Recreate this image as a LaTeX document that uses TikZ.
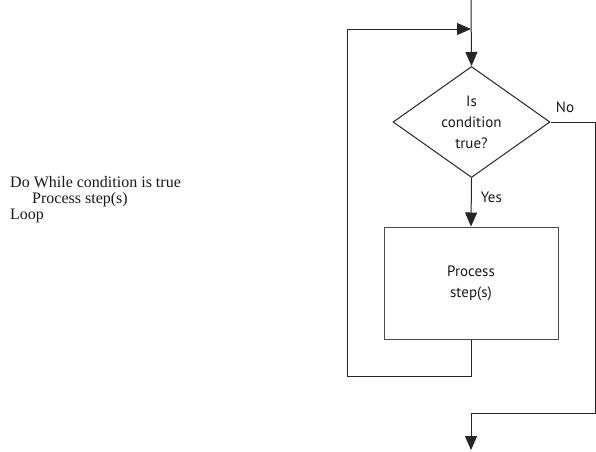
\documentclass[tikz,border=0pt]{standalone}
\usepackage{fontspec}
\setsansfont{PT Sans}
\newfontfamily\codefont{Liberation Serif}
\usetikzlibrary{shapes.geometric,arrows.meta}
\begin{document}
\begin{tikzpicture}[x=1pt,y=-1pt,
  flow/.style={draw=black!85,line width=1pt},
  tip/.style={-{Triangle[length=14pt,width=12pt]}},
  chartfont/.style={font=\sffamily\fontsize{15}{21}\selectfont,align=center,text=black!90},
  decision/.style={flow,shape=diamond,aspect=1.41,inner sep=0pt,
    minimum width=157pt,minimum height=111pt,chartfont},
  stepbox/.style={flow,draw=black!70,rectangle,minimum width=174pt,minimum height=112pt,
    inner sep=0pt,chartfont},
  lbl/.style={chartfont,inner sep=0pt},
  code/.style={font=\codefont\fontsize{16}{16}\selectfont,anchor=base west,inner sep=0pt,text=black!90}]
  \useasboundingbox (0,0) rectangle (596,451);

  % pseudocode
  \node[code] (l1) at (10,187) {Do While condition is true};
  \node[code] (l2) at (32,203) {Process step(s)};
  \node[code] (l3) at (10,219) {Loop};

  % flowchart
  \coordinate (entry) at (471,0);
  \coordinate (join) at (471,29);
  \node[decision] (cond) at (471.5,122) {Is\\condition\\true?};
  \node[stepbox] (proc) at (471,283) {Process\\step(s)};
  \coordinate (exit) at (471,450);

  \draw[flow,tip] (entry) -- (cond.north);
  \draw[flow,tip] (cond.south) -- (proc.north)
    node[lbl,pos=0.4,right=9pt] (yes) {Yes};
  \draw[flow,tip] (proc.south) -- ++(0,37) -| (347,29) -- (join);
  \draw[flow,tip] (cond.east) -- (595,122) |- (471,413) -- (exit);
  \node[lbl] (no) at (565,107) {No};
\end{tikzpicture}
\end{document}
